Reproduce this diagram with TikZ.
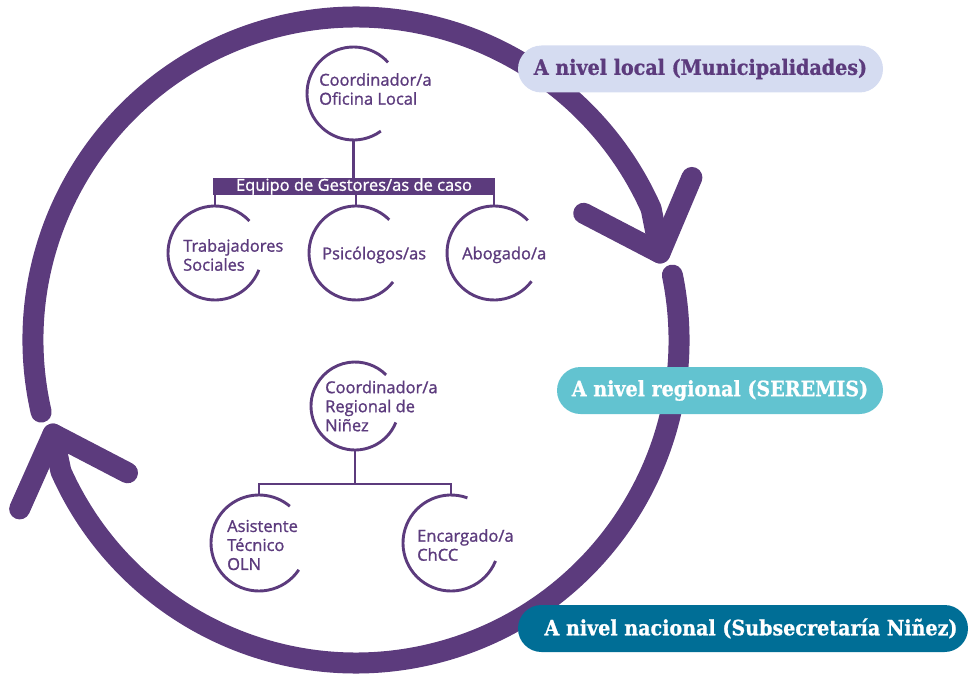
\documentclass[tikz,border=0pt]{standalone}
\usepackage{fontspec}
\setmainfont{Open Sans}[FakeBold=1.2]
\newfontfamily\slabfont[FakeStretch=0.91, FakeBold=1]{DejaVu Serif}
\definecolor{ringpurple}{RGB}{92,59,125}
\definecolor{lavender}{RGB}{213,220,241}
\definecolor{tealbox}{RGB}{98,195,208}
\definecolor{bluebox}{RGB}{0,110,150}
\tikzset{
  ring/.style={line width=21pt, draw=ringpurple, line cap=round, line join=round},
  tree/.style={line width=2.9pt, draw=ringpurple},
  bubble/.style={circle, inner sep=0pt, minimum size=#1},
  txt/.style={text=ringpurple, font=\fontsize{16.5}{19}\selectfont, align=left, inner sep=0pt, anchor=west},
  levelbox/.style={rounded corners=23.5pt, minimum height=47pt, inner sep=0pt, font=\slabfont\bfseries\fontsize{21}{24}\selectfont},
}
\begin{document}
\begin{tikzpicture}[x=1pt, y=-1pt]
  \useasboundingbox (0,0) rectangle (969,682);
  \pgfmathsetmacro{\radius}{323}
  % outer cycle with two arrow heads
  \begin{scope}[shift={(356,340)}]
    \coordinate (tipA) at (304,-87);
    \coordinate (tipB) at (-303,94);
    \draw[ring] (167.1:\radius) arc (167.1:336:\radius) -- (tipA);
    \draw[ring] (348.4:\radius) arc (348.4:516:\radius) -- (tipB);
    \draw[ring] (tipA) -- +(207.5:86) (tipA) -- +(292.9:82);
    \draw[ring] (tipB) -- +(27.5:84) (tipB) -- +(114:82);
  \end{scope}

  % local team
  \node[bubble=93pt] (coordlocal) at (353.5,93.5) {};
  \node[txt] (coordlocal-t) at (319,89) {Coordinador/a\\Oficina Local};
  \node[fill=ringpurple, text=white, minimum width=282pt, minimum height=17pt, inner sep=0pt,
        font=\fontsize{16.5}{17}\selectfont] (equipo) at (354,186.5) {Equipo de Gestores/as de caso};
  \node[bubble=94pt] (trab) at (215,253) {};
  \node[txt] (trab-t) at (183,255) {Trabajadores\\Sociales};
  \node[bubble=94pt] (psico) at (356,253) {};
  \node[txt] (psico-t) at (322,255) {Psicólogos/as};
  \node[bubble=94pt] (abog) at (494,253) {};
  \node[txt] (abog-t) at (462,255) {Abogado/a};
  \draw[tree] (coordlocal.south) -- (coordlocal.south |- equipo.north);
  \foreach \n in {trab, psico, abog}
    \draw[tree] (equipo.south -| \n.north) -- (\n.north);

  % regional team
  \node[bubble=88pt] (regional) at (355,406) {};
  \node[txt] (regional-t) at (325,406) {Coordinador/a\\Regional de\\Niñez};
  \node[bubble=96pt] (asist) at (259,543) {};
  \node[txt] (asist-t) at (227,545) {Asistente\\Técnico\\OLN};
  \node[bubble=96pt] (encarg) at (451,543) {};
  \node[txt] (encarg-t) at (417,545) {Encargado/a\\ChCC};
  \coordinate (split) at (355,484);
  \draw[tree] (regional.south) -- (split);
  \draw[tree] (asist.north) |- (split) -| (encarg.north);

  % open circles
  \foreach \n/\r/\a/\b in {coordlocal/46.5/54/318, trab/47/21/317, psico/47/38/315, abog/47/37/316,
                           regional/44/22/315, asist/48/34/310, encarg/48/22/290}
    \draw[tree] ([shift={(\a:\r)}]\n.center) arc (\a:\b:\r);

  % levels
  \node[levelbox, fill=lavender, text=ringpurple, minimum width=365pt] (local) at (700.5,69) {A nivel local (Municipalidades)};
  \node[levelbox, fill=tealbox, text=white, minimum width=326pt] (regionallevel) at (720,390.5) {A nivel regional (SEREMIS)};
  \node[levelbox, fill=bluebox, text=white, minimum width=450pt] (national) at (743,628.5) {\hspace*{16pt}A nivel nacional (Subsecretaría Niñez)};
\end{tikzpicture}
\end{document}
